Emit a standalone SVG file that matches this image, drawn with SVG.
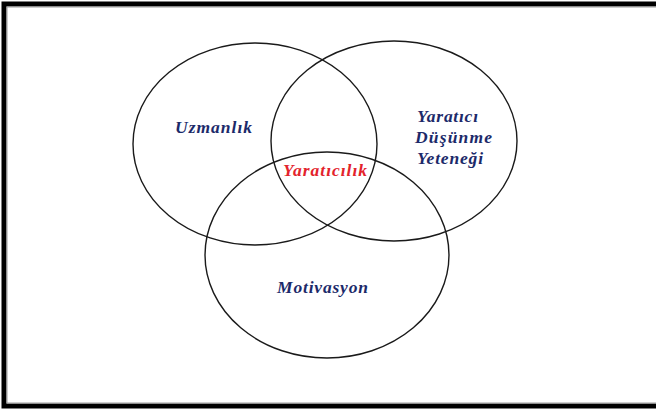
<svg xmlns="http://www.w3.org/2000/svg" width="656" height="411" viewBox="0 0 656 411">
  <style>
    .ring { fill: none; stroke: #1a1a1a; stroke-width: 1.4; }
    .lbl { font-family: "Liberation Serif", "Times New Roman", serif; font-size: 17.5px; font-weight: bold; font-style: italic; fill: #1c2a6a; }
    .core { fill: #e3232c; }
  </style>
  <rect x="0" y="0" width="656" height="411" fill="#ffffff"/>
  <!-- frame -->
  <rect x="4" y="4" width="670" height="402" fill="none" stroke="#000000" stroke-width="5"/>
  <rect x="7" y="7" width="670" height="396" fill="none" stroke="#9a9a9a" stroke-width="1"/>

  <g id="expertise">
    <ellipse class="ring" cx="255" cy="144" rx="122" ry="101"/>
    <text class="lbl" x="175" y="133" textLength="77" lengthAdjust="spacing">Uzmanlık</text>
  </g>
  <g id="creative-thinking">
    <ellipse class="ring" cx="394" cy="141" rx="123" ry="100"/>
    <text class="lbl" x="417" y="122" textLength="61" lengthAdjust="spacing">Yaratıcı</text>
    <text class="lbl" x="415" y="143" textLength="77" lengthAdjust="spacing">Düşünme</text>
    <text class="lbl" x="417" y="164" textLength="66" lengthAdjust="spacing">Yeteneği</text>
  </g>
  <g id="motivation">
    <ellipse class="ring" cx="327" cy="255" rx="122" ry="103"/>
    <text class="lbl" x="277" y="293" textLength="91" lengthAdjust="spacing">Motivasyon</text>
  </g>
  <g id="creativity">
    <text class="lbl core" x="283" y="176" textLength="84" lengthAdjust="spacing">Yaratıcılık</text>
  </g>
  <g id="connectors"/>
</svg>
